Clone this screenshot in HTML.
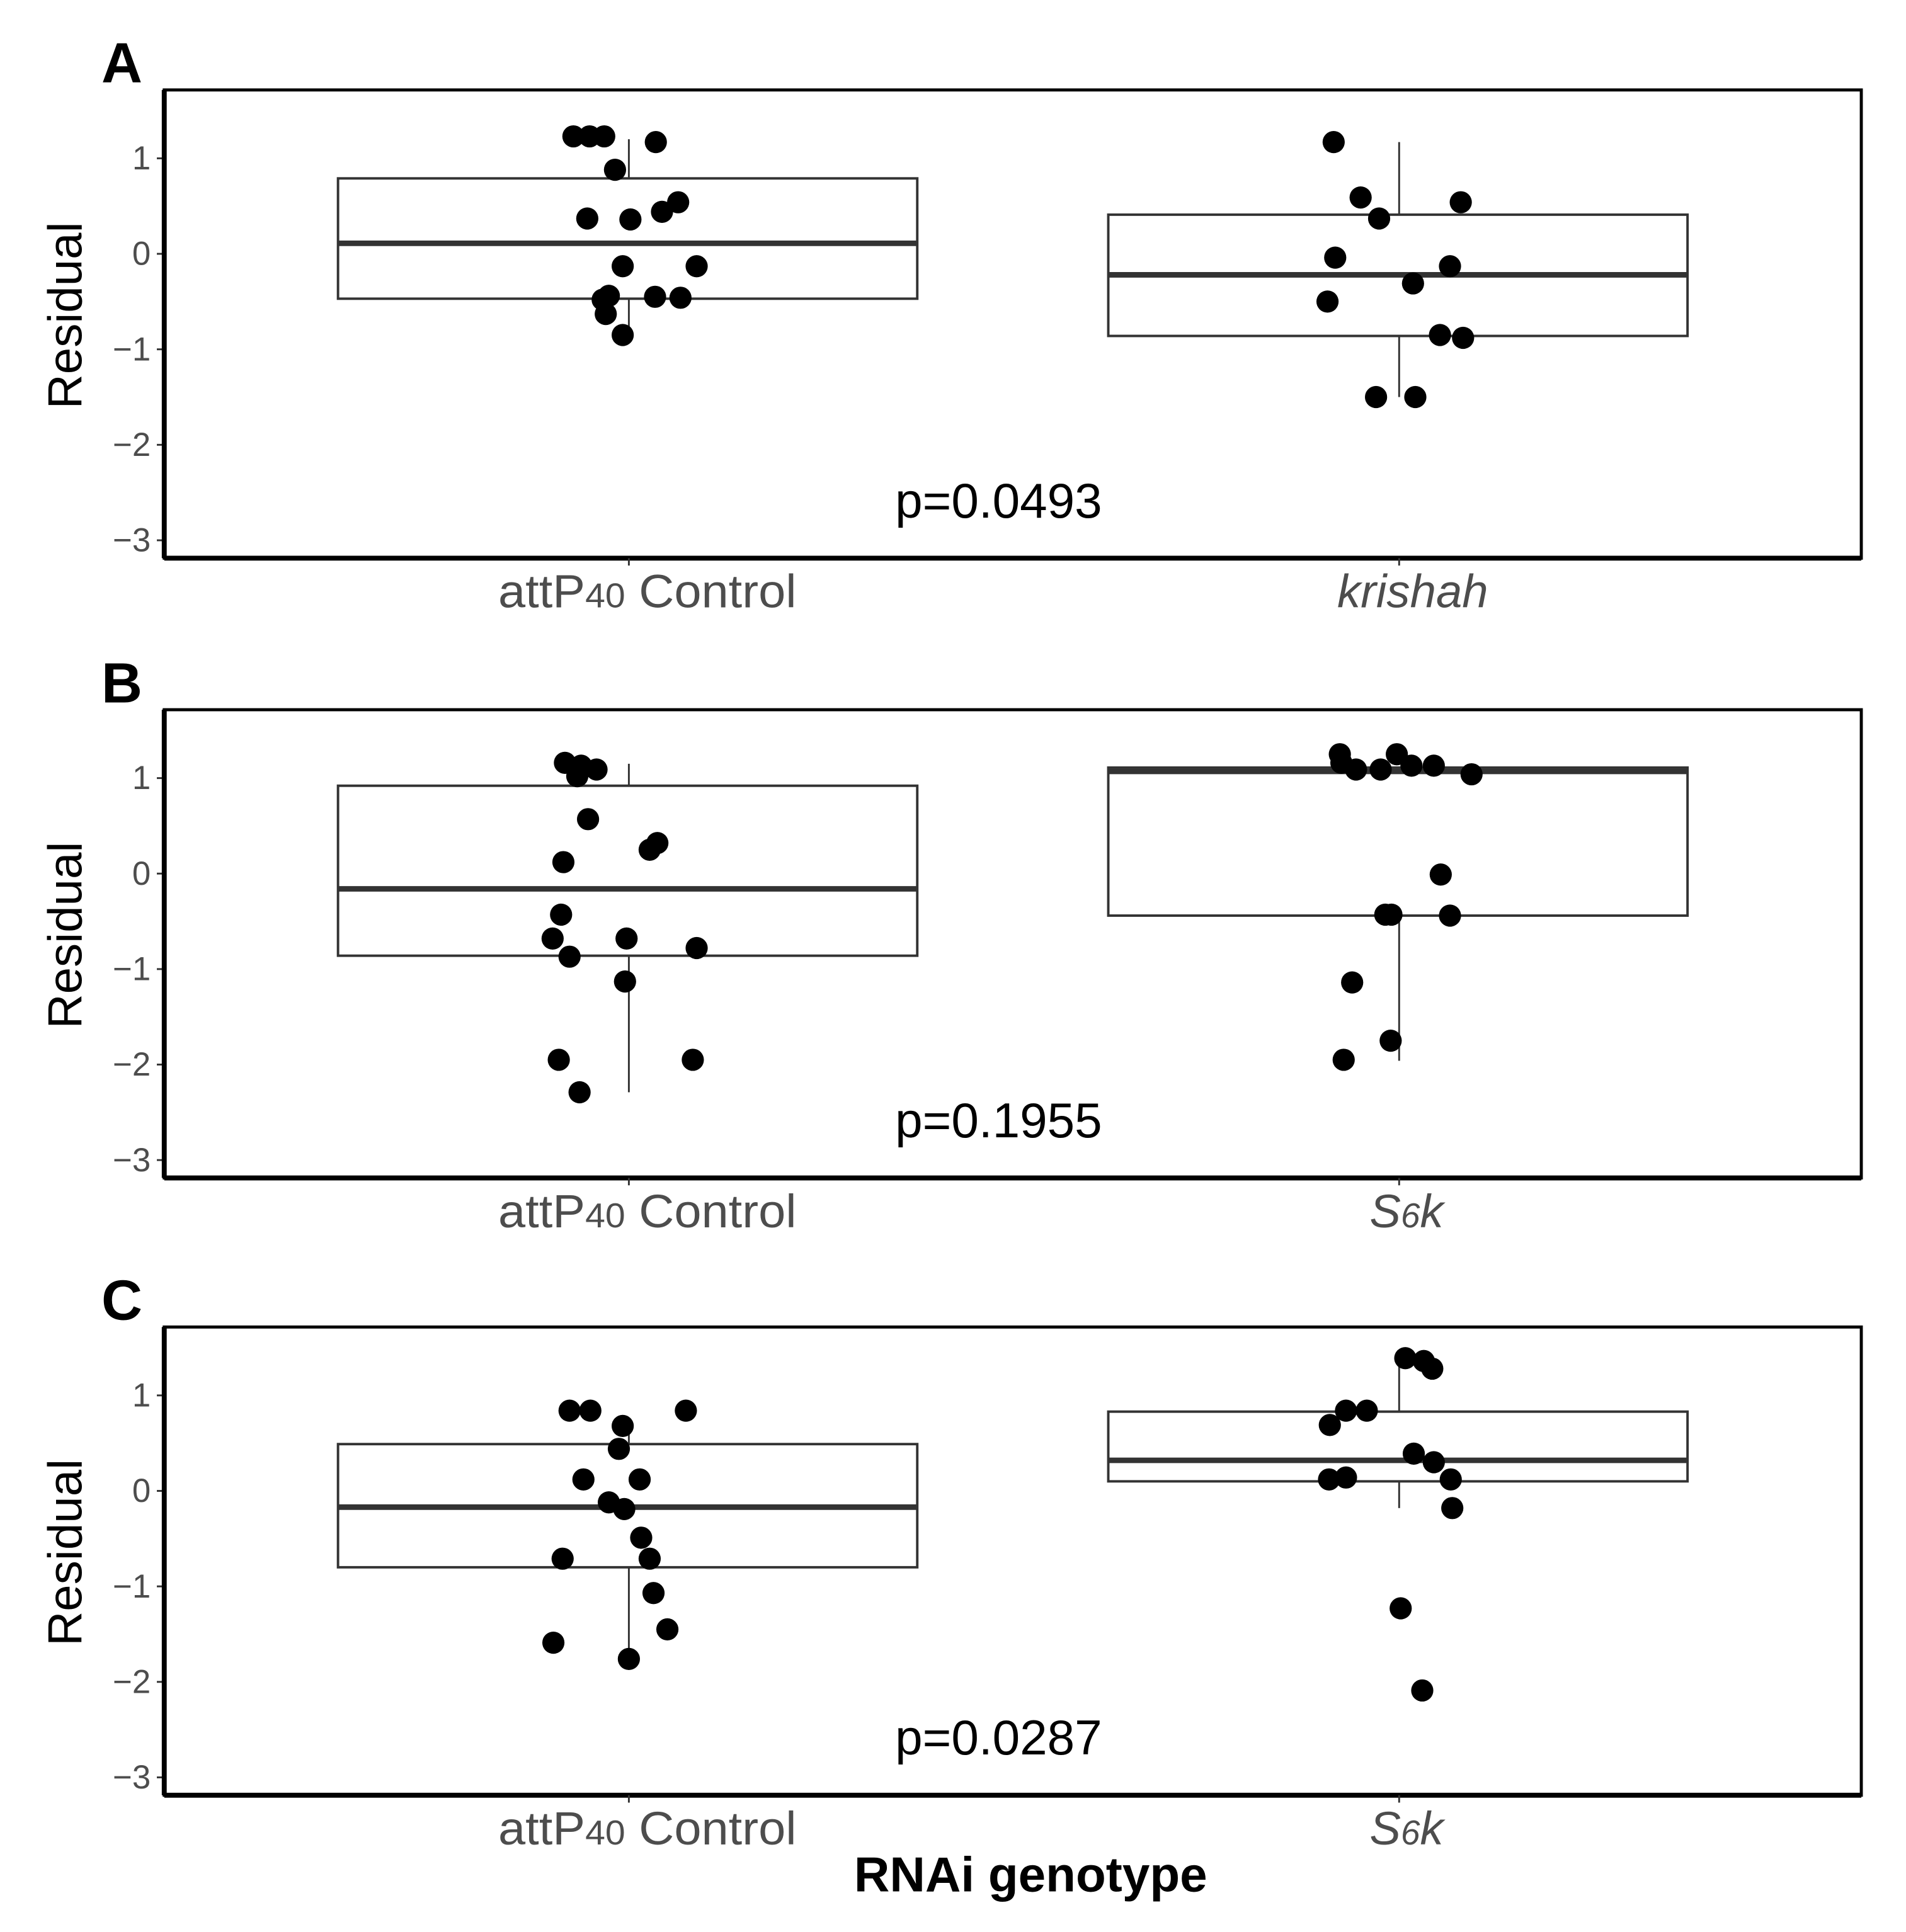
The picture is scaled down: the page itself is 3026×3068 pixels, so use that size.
<!DOCTYPE html>
<html><head><meta charset="utf-8"><style>
html,body{margin:0;padding:0;background:#fff;}
svg{display:block;}
text{font-family:"Liberation Sans",sans-serif;}
</style></head><body>
<svg id="chart" width="3026" height="3068" viewBox="0 0 1546 1568" xmlns="http://www.w3.org/2000/svg"></svg>
<script>
// ---- data ----
const panelLetters = ["A","B","C"];
const categoriesA = ["attP40 Control","krishah"];
const categoriesB = ["attP40 Control","S6k"];
const categoriesC = ["attP40 Control","S6k"];
const pValues = ["p=0.0493","p=0.1955","p=0.0287"];
const yTicks = [1,0,-1,-2,-3];
// box stats: [whiskerLow, q1, median, q3, whiskerHigh]
const boxA0 = [-0.8,-0.47,0.11,0.79,1.2];
const boxA1 = [-1.5,-0.86,-0.22,0.41,1.17];
const boxB0 = [-2.29,-0.86,-0.16,0.92,1.15];
const boxB1 = [-1.96,-0.44,1.07,1.11,1.12];
const boxC0 = [-1.78,-0.8,-0.17,0.49,0.75];
const boxC1 = [-0.18,0.1,0.32,0.83,1.4];
// point values
const valsA0 = [1.23,1.23,1.23,1.17,0.88,0.37,0.36,0.44,0.54,-0.13,-0.13,-0.44,-0.48,-0.45,-0.46,-0.63,-0.85];
const jitA0  = [-0.072,-0.051,-0.032,0.035,-0.018,-0.054,0.002,0.043,0.064,-0.008,0.088,-0.026,-0.034,0.034,0.067,-0.03,-0.008];
const valsA1 = [1.17,0.59,0.37,0.54,-0.04,-0.13,-0.31,-0.5,-0.85,-0.88,-1.5,-1.5];
const jitA1  = [-0.085,-0.05,-0.026,0.08,-0.083,0.066,0.018,-0.093,0.053,0.083,-0.03,0.021];
const valsB0 = [1.16,1.13,1.09,1.02,0.57,0.32,0.25,0.12,-0.43,-0.68,-0.68,-0.78,-0.87,-1.13,-1.95,-1.95,-2.29];
const jitB0  = [-0.083,-0.062,-0.042,-0.067,-0.053,0.037,0.027,-0.085,-0.088,-0.099,-0.003,0.088,-0.077,-0.005,-0.091,0.083,-0.064];
const valsB1 = [1.25,1.25,1.16,1.09,1.09,1.13,1.13,1.04,-0.01,-0.43,-0.43,-0.44,-1.14,-1.75,-1.95];
const jitB1  = [-0.077,-0.003,-0.075,-0.056,-0.024,0.016,0.045,0.094,0.054,-0.018,-0.01,0.066,-0.061,-0.011,-0.072];
const valsC0 = [0.84,0.84,0.84,0.68,0.44,0.12,0.12,-0.12,-0.19,-0.49,-0.71,-0.71,-1.07,-1.45,-1.59,-1.76];
const jitC0  = [-0.077,-0.05,0.074,-0.008,-0.013,-0.059,0.014,-0.026,-0.006,0.016,-0.086,0.027,0.032,0.05,-0.098,0];
const valsC1 = [1.39,1.36,1.28,0.84,0.84,0.69,0.39,0.3,0.14,0.12,0.12,-0.18,-1.23,-2.09];
const jitC1  = [0.008,0.032,0.043,-0.069,-0.042,-0.09,0.019,0.045,-0.069,-0.091,0.067,0.069,0.002,0.03];

const panels = [
  {cats:categoriesA, boxes:[boxA0,boxA1], vals:[valsA0,valsA1], jit:[jitA0,jitA1], top:73},
  {cats:categoriesB, boxes:[boxB0,boxB1], vals:[valsB0,valsB1], jit:[jitB0,jitB1], top:576},
  {cats:categoriesC, boxes:[boxC0,boxC1], vals:[valsC0,valsC1], jit:[jitC0,jitC1], top:1077}
];

const NS="http://www.w3.org/2000/svg";
const svg=document.getElementById('chart');
function mk(tag,attrs,parent,txt){const e=document.createElementNS(NS,tag);for(const k in attrs)e.setAttribute(k,attrs[k]);if(txt!==undefined)e.textContent=txt;(parent||svg).appendChild(e);return e;}

const L=133,R=1510,H=380;
function xScale(i){return 510+i*625;}

panels.forEach((p,pi)=>{
  const g=mk('g',{});
  
  
  const top=p.top, bottom=top+H;
  const y0=top+133, unit=77.5;
  const yScale=v=>y0-v*unit;
  const lt=mk('text',{x:82,y:top-6,'font-size':46,'font-weight':'bold',fill:'#000'},g,panelLetters[pi]);
  
  
  yTicks.forEach(t=>{
    const y=yScale(t);
    const tl=mk('line',{x1:L-6,x2:L,y1:y,y2:y,stroke:'#333','stroke-width':1.5},g);
    
    
    const tx=mk('text',{x:L-11,y:y+9,'font-size':27,fill:'#4d4d4d','text-anchor':'end'},g,t<0?'\u2212'+Math.abs(t):String(t));
    
    
  });
  const yt=mk('text',{x:0,y:0,'font-size':39,fill:'#000','text-anchor':'middle',transform:`translate(66,${top+183}) rotate(-90)`},g,'Residual');
  
  
  p.boxes.forEach((b,ci)=>{
    const cx=xScale(ci);
    const w1=mk('line',{x1:cx,x2:cx,y1:yScale(b[4]),y2:yScale(b[3]),stroke:'#333','stroke-width':1.5},g);
    
    
    const w2=mk('line',{x1:cx,x2:cx,y1:yScale(b[1]),y2:yScale(b[0]),stroke:'#333','stroke-width':1.5},g);
    
    
    const r=mk('rect',{x:cx-236,y:yScale(b[3]),width:470,height:yScale(b[1])-yScale(b[3]),fill:'none',stroke:'#333','stroke-width':2},g);
    
    
    const m=mk('line',{x1:cx-236,x2:cx+234,y1:yScale(b[2]),y2:yScale(b[2]),stroke:'#333','stroke-width':4.5},g);
    
    
  });
  p.vals.forEach((vs,ci)=>{
    vs.forEach((v,k)=>{
      const c=mk('circle',{cx:xScale(ci+p.jit[ci][k]),cy:yScale(v),r:9,fill:'#000'},g);
      
      
    });
  });
  const fr=mk('rect',{x:L,y:top,width:R-L,height:H,fill:'none',stroke:'#000','stroke-width':2.5},g);
  
  
  const ax=mk('line',{x1:L,x2:R,y1:bottom,y2:bottom,stroke:'#000','stroke-width':4},g);
  
  
  const ay=mk('line',{x1:L,x2:L,y1:top,y2:bottom,stroke:'#000','stroke-width':4},g);
  
  
  p.cats.forEach((c,ci)=>{
    const x=xScale(ci);
    const tk=mk('line',{x1:x,x2:x,y1:bottom,y2:bottom+6,stroke:'#333','stroke-width':1.5},g);
    
    
    let t;
    if(ci===0){
      t=mk('text',{x:x+15,y:bottom+40,'font-size':38,fill:'#4d4d4d','text-anchor':'middle',textLength:242,lengthAdjust:'spacingAndGlyphs'},g);
      mk('tspan',{},t,'attP');
      mk('tspan',{'font-size':28},t,'40');
      mk('tspan',{},t,' Control');
    } else if(c==='S6k'){
      t=mk('text',{x:x+6,y:bottom+40,'font-size':38,fill:'#4d4d4d','text-anchor':'middle','font-style':'italic'},g);
      mk('tspan',{},t,'S');
      mk('tspan',{'font-size':28},t,'6');
      mk('tspan',{},t,'k');
    } else {
      t=mk('text',{x:x+11,y:bottom+40,'font-size':38,fill:'#4d4d4d','text-anchor':'middle','font-style':'italic'},g,c);
    }
    
    
  });
  const pv=mk('text',{x:810,y:top+347,'font-size':40,fill:'#000','text-anchor':'middle'},g,pValues[pi]);
  
  
});
const xt=mk('text',{x:836,y:1535,'font-size':40,'font-weight':'bold',fill:'#000','text-anchor':'middle'},svg,'RNAi genotype');


</script>
</body></html>
